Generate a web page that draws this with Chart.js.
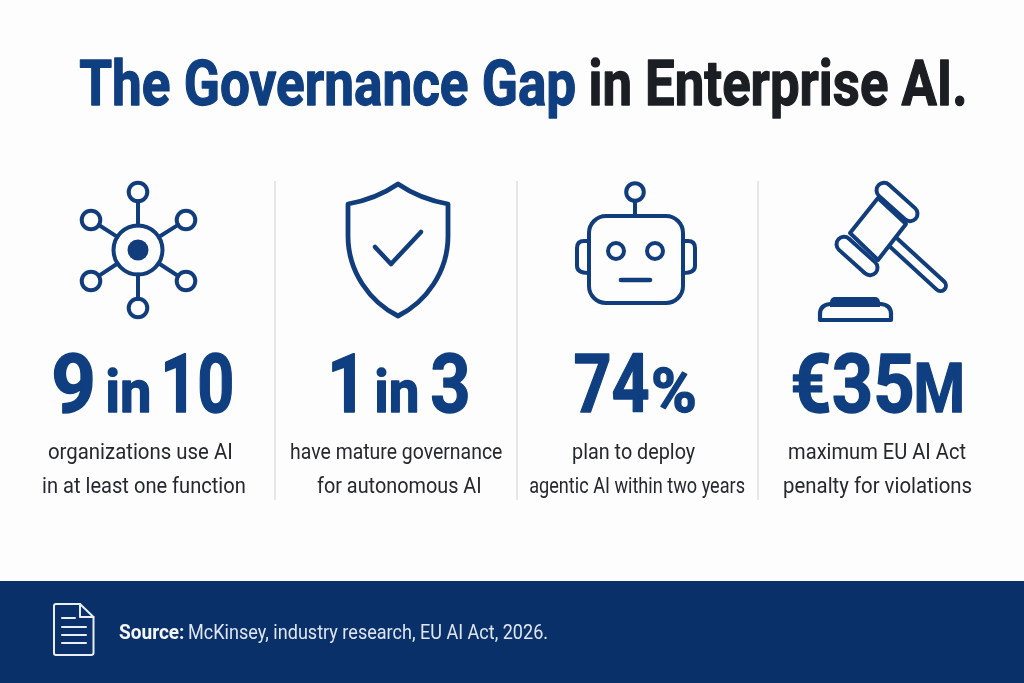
<!DOCTYPE html>
<html>
<head>
<meta charset="utf-8">
<title>The Governance Gap in Enterprise AI.</title>
<script src="https://cdn.jsdelivr.net/npm/chart.js@4"></script>
<style>html,body{margin:0;padding:0;background:#fdfdfd;overflow:hidden}canvas{display:block}</style>
</head>
<body>
<canvas id="c" width="1024" height="683"></canvas>
<script>
// ---- content ----
const titleLead = "The Governance Gap";
const titleRest = "in Enterprise AI.";
const categories = ["Use AI", "Mature governance", "Plan agentic AI", "Max EU penalty"];
const statValues = [90, 33, 74, 35];
const statParts = [["9", "in", "10"], ["1", "in", "3"], ["74", "%"], ["€35", "M"]];
const captionFirst = ["organizations use AI", "have mature governance", "plan to deploy", "maximum EU AI Act"];
const captionSecond = ["in at least one function", "for autonomous AI", "agentic AI within two years", "penalty for violations"];
const sourceLabel = "Source:";
const sourceText = "McKinsey, industry research, EU AI Act, 2026.";

// ---- styling / layout (not data) ----
const NAVY = "#0f3f80", ICON = "#113d7c", INK = "#1b1e23", CAP = "#25282d", BAND = "#0a3069", RULE = "#dcdfe2";
const FACE = "Roboto";
const partLayout = [
  [[54, 92, 412, 82], [108, 149, 412, 60], [165, 232, 412, 82]],
  [[332, 355, 412, 82], [377, 417, 412, 60], [432, 468, 412, 82]],
  [[575, 648, 412, 82], [653, 695, 412, 62]],
  [[793, 912, 412, 82], [917, 962, 412, 68]]
];
const cap1Layout = [[48, 231], [291, 502], [573, 695], [789, 966]];
const cap2Layout = [[43, 245], [317, 480], [530, 745], [784, 972]];

function fit(ctx, text, x0, x1, y, font, color, heavy) {
  ctx.save();
  ctx.font = font; ctx.fillStyle = color; ctx.textAlign = "left"; ctx.textBaseline = "alphabetic";
  const m = ctx.measureText(text);
  const l = -m.actualBoundingBoxLeft, r = m.actualBoundingBoxRight;
  const sx = (x1 - x0) / (r - l);
  ctx.translate(x0 - l * sx, y); ctx.scale(sx, 1);
  ctx.fillText(text, 0, 0);
  if (heavy) { ctx.strokeStyle = color; ctx.lineWidth = heavy; ctx.lineJoin = "round"; ctx.strokeText(text, 0, 0); }
  ctx.restore();
}
function circle(ctx, x, y, r) { ctx.beginPath(); ctx.arc(x, y, r, 0, Math.PI * 2); ctx.stroke(); }
function seg(ctx, a, b, c, d) { ctx.beginPath(); ctx.moveTo(a, b); ctx.lineTo(c, d); ctx.stroke(); }
function rr(ctx, x, y, w, h, r) { ctx.beginPath(); ctx.roundRect(x, y, w, h, r); ctx.stroke(); }

function networkIcon(ctx) {
  ctx.lineWidth = 4;
  const cx = 138, cy = 250;
  circle(ctx, cx, cy, 24.5);
  ctx.beginPath(); ctx.arc(cx, cy, 10.5, 0, Math.PI * 2); ctx.fillStyle = ICON; ctx.fill();
  [[138, 192], [186, 220], [186, 281], [138, 308], [91, 281], [91, 220]].forEach(([x, y]) => {
    circle(ctx, x, y, 9.3);
    const dx = x - cx, dy = y - cy, d = Math.hypot(dx, dy);
    seg(ctx, cx + dx / d * 24.5, cy + dy / d * 24.5, x - dx / d * 9.3, y - dy / d * 9.3);
  });
}
function shieldIcon(ctx) {
  ctx.lineWidth = 4.8;
  ctx.beginPath();
  ctx.moveTo(398, 184);
  ctx.quadraticCurveTo(376, 199, 348, 204);
  ctx.lineTo(348, 236);
  ctx.bezierCurveTo(348, 272, 370, 302, 398, 316);
  ctx.bezierCurveTo(426, 302, 448, 272, 448, 236);
  ctx.lineTo(448, 204);
  ctx.quadraticCurveTo(420, 199, 398, 184);
  ctx.closePath();
  ctx.stroke();
  ctx.lineWidth = 4.6;
  ctx.beginPath(); ctx.moveTo(375, 247); ctx.lineTo(391, 264); ctx.lineTo(421, 232); ctx.stroke();
}
function robotIcon(ctx) {
  ctx.lineWidth = 4;
  circle(ctx, 635, 192, 8.8);
  seg(ctx, 635, 201, 635, 216);
  rr(ctx, 589, 216, 94, 87, 17);
  ctx.beginPath(); ctx.moveTo(589, 241); ctx.lineTo(584, 241); ctx.quadraticCurveTo(577, 241, 577, 248);
  ctx.lineTo(577, 266); ctx.quadraticCurveTo(577, 273, 589, 273); ctx.stroke();
  ctx.beginPath(); ctx.moveTo(683, 241); ctx.lineTo(688, 241); ctx.quadraticCurveTo(695, 241, 695, 248);
  ctx.lineTo(695, 266); ctx.quadraticCurveTo(695, 273, 683, 273); ctx.stroke();
  circle(ctx, 616, 251, 8); circle(ctx, 655, 251, 8);
  ctx.lineWidth = 4.6; seg(ctx, 621, 280, 650, 280);
}
function gavelIcon(ctx) {
  ctx.lineWidth = 4;
  const cap = (cx, cy) => { ctx.save(); ctx.translate(cx, cy); ctx.rotate(42 * Math.PI / 180); rr(ctx, -25, -7.5, 50, 15, 7.5); ctx.restore(); };
  cap(897, 202); cap(857, 256);
  ctx.beginPath(); ctx.moveTo(878, 198); ctx.lineTo(906, 224); ctx.lineTo(878, 260); ctx.lineTo(850, 233); ctx.closePath(); ctx.stroke();
  ctx.save(); ctx.translate(894, 243); ctx.rotate(42.5 * Math.PI / 180);
  ctx.beginPath(); ctx.moveTo(0, -5.5); ctx.lineTo(63, -5.5); ctx.arc(63, 0, 5.5, -Math.PI / 2, Math.PI / 2); ctx.lineTo(0, 5.5); ctx.stroke();
  ctx.restore();
  ctx.fillStyle = ICON;
  ctx.beginPath(); ctx.roundRect(830, 297, 50, 10, [5, 5, 0, 0]); ctx.fill();
  ctx.lineWidth = 4.2;
  ctx.beginPath(); ctx.moveTo(820, 320); ctx.lineTo(820, 314); ctx.quadraticCurveTo(820, 305, 830, 304);
  ctx.lineTo(881, 304); ctx.quadraticCurveTo(891, 305, 891, 314); ctx.lineTo(891, 320); ctx.closePath(); ctx.stroke();
}
function docIcon(ctx) {
  ctx.strokeStyle = "#e9eef6"; ctx.lineWidth = 2;
  ctx.beginPath(); ctx.moveTo(80, 604); ctx.lineTo(56, 604); ctx.quadraticCurveTo(54, 604, 54, 606);
  ctx.lineTo(54, 653); ctx.quadraticCurveTo(54, 655, 56, 655); ctx.lineTo(91, 655);
  ctx.quadraticCurveTo(93.5, 655, 93.5, 653); ctx.lineTo(93.5, 617); ctx.closePath(); ctx.stroke();
  ctx.beginPath(); ctx.moveTo(80, 604); ctx.lineTo(80, 617); ctx.lineTo(93.5, 617); ctx.stroke();
  seg(ctx, 62, 618, 75, 618); seg(ctx, 62, 627, 86, 627); seg(ctx, 62, 635, 86, 635); seg(ctx, 62, 643, 86, 643);
}

const infographic = {
  id: "infographic",
  beforeDatasetsDraw(chart) {
    const ctx = chart.ctx;
    ctx.save();
    ctx.fillStyle = "#fdfdfd"; ctx.fillRect(0, 0, 1024, 683);
    ctx.fillStyle = BAND; ctx.fillRect(0, 581, 1024, 102);
    fit(ctx, titleLead, 80, 575, 105, `700 63px ${FACE}`, NAVY, 1.3);
    fit(ctx, titleRest, 591, 964, 105, `700 63px ${FACE}`, INK, 1.3);
    ctx.strokeStyle = RULE; ctx.lineWidth = 1.5;
    [275, 517, 758].forEach(x => seg(ctx, x, 181, x, 500));
    ctx.strokeStyle = ICON; ctx.lineCap = "round"; ctx.lineJoin = "round";
    networkIcon(ctx); shieldIcon(ctx); robotIcon(ctx); gavelIcon(ctx);
    statParts.forEach((parts, i) => parts.forEach((p, j) => {
      const [a, b, y, size] = partLayout[i][j];
      fit(ctx, p, a, b, y, `700 ${size}px ${FACE}`, NAVY, 1.4);
    }));
    categories.forEach((_, i) => {
      fit(ctx, captionFirst[i], cap1Layout[i][0], cap1Layout[i][1], 459, `400 21.5px ${FACE}`, CAP);
      fit(ctx, captionSecond[i], cap2Layout[i][0], cap2Layout[i][1], 493, `400 21.5px ${FACE}`, CAP);
    });
    docIcon(ctx);
    fit(ctx, sourceLabel, 119, 184, 639, `700 19.5px ${FACE}`, "#f4f6fa");
    fit(ctx, sourceText, 189, 547, 639, `400 19.5px ${FACE}`, "#dfe6f1");
    ctx.restore();
  }
};

new Chart(document.getElementById("c"), {
  type: "bar",
  data: { labels: categories, datasets: [{ label: "Headline figure", data: statValues, backgroundColor: "rgba(0,0,0,0)", borderWidth: 0 }] },
  options: {
    responsive: false, animation: false, devicePixelRatio: 1,
    layout: { padding: 0 },
    plugins: { legend: { display: false }, title: { display: false }, tooltip: { enabled: false } },
    scales: { x: { display: false }, y: { display: false, min: 0, max: 100 } }
  },
  plugins: [infographic]
});
</script>
</body>
</html>
